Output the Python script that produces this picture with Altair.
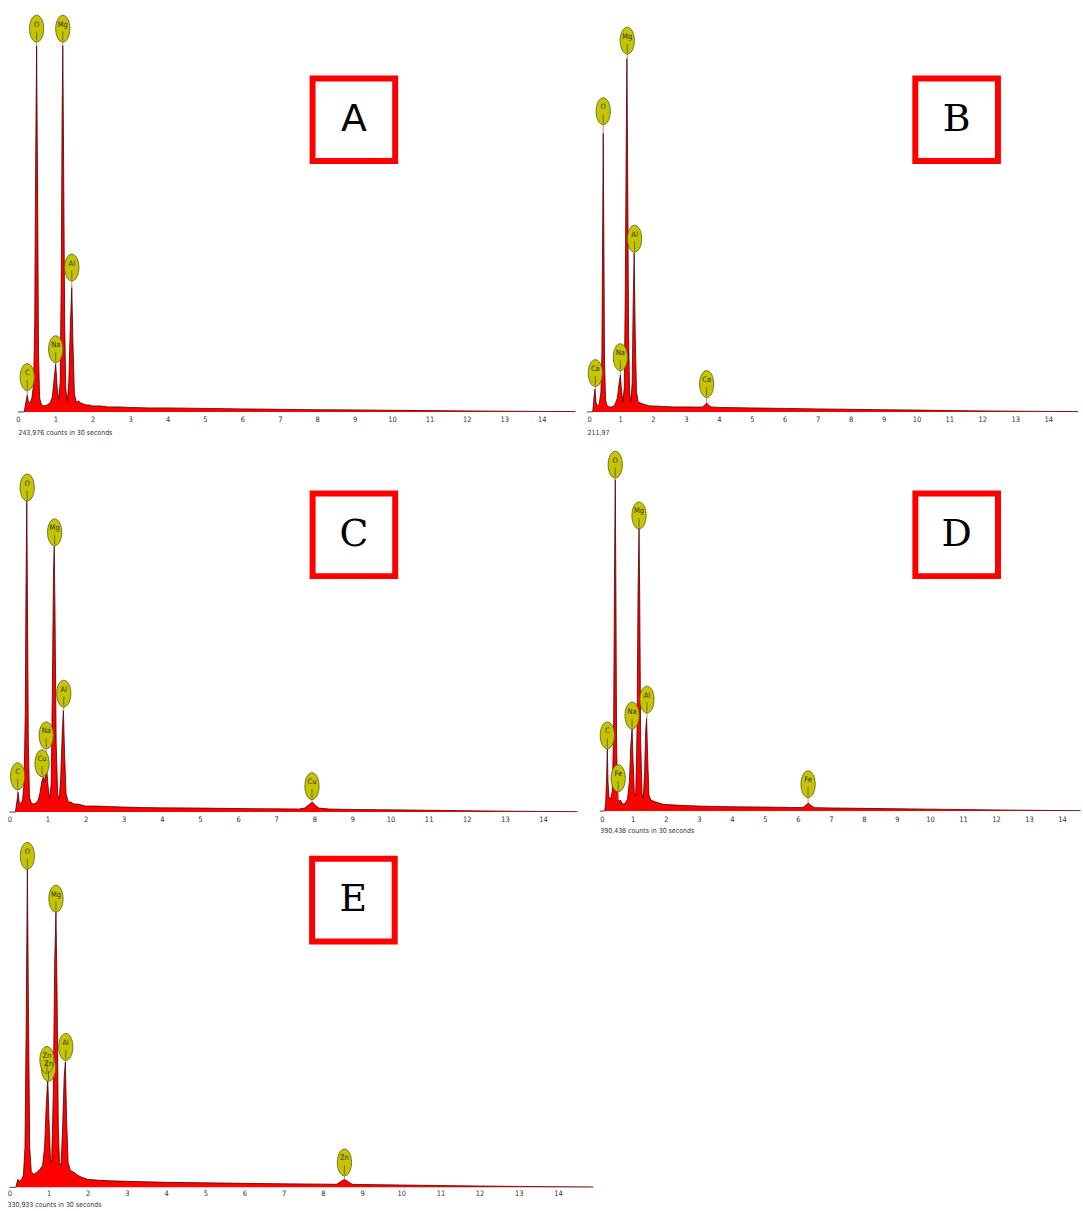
import altair as alt
import pandas as pd

NUM_FONT = "Liberation Sans Narrow, DejaVu Sans Condensed, Liberation Sans, sans-serif"
TICKS = list(range(15))

# ---------------- spectra: (energy keV, counts a.u.) ----------------
A_POINTS = [(0, 0), (0.17, 0), (0.19, 5), (0.22, 11), (0.25, 17), (0.28, 10), (0.32, 9), (0.37, 13),
            (0.42, 28), (0.45, 90), (0.47, 230), (0.50, 368), (0.53, 200), (0.55, 60), (0.58, 14),
            (0.63, 7), (0.70, 6), (0.78, 7), (0.86, 9), (0.92, 15), (0.96, 30), (1.01, 48), (1.05, 24),
            (1.09, 12), (1.13, 30), (1.16, 140), (1.18, 290), (1.20, 368), (1.22, 260), (1.25, 90),
            (1.28, 22), (1.32, 11), (1.36, 30), (1.40, 85), (1.44, 125), (1.47, 70), (1.51, 18),
            (1.56, 10), (1.62, 11), (1.68, 9), (1.75, 8), (1.82, 7), (1.90, 7), (2.0, 6), (2.2, 6),
            (2.4, 5), (2.7, 5), (3.0, 4.5), (3.5, 4), (4.0, 4), (5.0, 3.5), (6.0, 3), (7.0, 2.6),
            (8.0, 2.2), (9.0, 2), (10.0, 1.6), (11.0, 1.3), (12.0, 1), (13.0, 0.7), (14.0, 0.5), (14.9, 0.3)]
B_POINTS = [(0, 0), (0.17, 0), (0.19, 6), (0.21, 15), (0.24, 23), (0.27, 10), (0.31, 6), (0.37, 8),
            (0.42, 20), (0.45, 60), (0.47, 170), (0.49, 280), (0.51, 170), (0.53, 50), (0.56, 12),
            (0.61, 6), (0.68, 5), (0.76, 5), (0.84, 7), (0.92, 14), (0.97, 28), (1.01, 37), (1.05, 20),
            (1.09, 10), (1.13, 25), (1.16, 120), (1.19, 280), (1.21, 355), (1.23, 250), (1.26, 80),
            (1.29, 20), (1.33, 10), (1.37, 30), (1.40, 110), (1.43, 160), (1.46, 80), (1.50, 20),
            (1.55, 10), (1.62, 9), (1.70, 8), (1.80, 7), (1.90, 6), (2.0, 6), (2.3, 5.5), (2.6, 5),
            (3.0, 5), (3.3, 4.8), (3.5, 5), (3.58, 7), (3.63, 9), (3.68, 7), (3.76, 5), (4.0, 4.5),
            (5.0, 4), (6.0, 3.5), (7.0, 3), (8.0, 2.6), (9.0, 2.2), (10.0, 1.8), (11.0, 1.4),
            (12.0, 1), (13.0, 0.7), (14.0, 0.5), (14.9, 0.3)]
C_POINTS = [(0, 0), (0.16, 0), (0.18, 5), (0.21, 13), (0.23, 20), (0.26, 10), (0.30, 8), (0.35, 12),
            (0.39, 30), (0.42, 100), (0.44, 230), (0.46, 314), (0.48, 200), (0.50, 70), (0.53, 15),
            (0.58, 9), (0.64, 8), (0.70, 9), (0.76, 12), (0.81, 20), (0.85, 30), (0.89, 35), (0.92, 30),
            (0.95, 38), (0.98, 44), (1.02, 25), (1.06, 13), (1.10, 28), (1.13, 120), (1.16, 240),
            (1.18, 267), (1.20, 200), (1.23, 70), (1.27, 18), (1.31, 12), (1.35, 35), (1.39, 80),
            (1.42, 102), (1.45, 60), (1.49, 18), (1.55, 10), (1.62, 10), (1.70, 8), (1.80, 8),
            (1.90, 7), (2.0, 6), (2.3, 6), (2.6, 5.5), (3.0, 5), (3.5, 4.5), (4.0, 4.2), (5.0, 4),
            (6.0, 3.5), (7.0, 3.2), (7.6, 3), (7.75, 4), (7.88, 8), (7.95, 10), (8.02, 7), (8.12, 4),
            (8.4, 3), (9.0, 2.6), (10.0, 2.2), (11.0, 1.8), (12.0, 1.3), (13.0, 0.9), (14.0, 0.6),
            (14.9, 0.4)]
D_POINTS = [(0, 0), (0.15, 0), (0.18, 8), (0.21, 35), (0.23, 63), (0.25, 30), (0.28, 14), (0.33, 12),
            (0.38, 20), (0.42, 80), (0.45, 250), (0.47, 333), (0.49, 220), (0.51, 70), (0.54, 16),
            (0.57, 11), (0.60, 10), (0.63, 11), (0.67, 8), (0.72, 7), (0.78, 8), (0.84, 12), (0.90, 30),
            (0.94, 65), (0.98, 83), (1.01, 50), (1.05, 18), (1.09, 15), (1.13, 80), (1.16, 220),
            (1.19, 284), (1.21, 220), (1.24, 70), (1.28, 18), (1.32, 13), (1.36, 40), (1.39, 80),
            (1.42, 93), (1.45, 55), (1.49, 16), (1.55, 11), (1.62, 10), (1.70, 9), (1.80, 8),
            (1.90, 7), (2.0, 6.5), (2.3, 6), (2.6, 5.5), (3.0, 5), (3.5, 4.6), (4.0, 4.3), (5.0, 4),
            (5.8, 3.6), (6.15, 3.5), (6.25, 6), (6.32, 8), (6.40, 5.5), (6.5, 3.4), (7.0, 3.1),
            (8.0, 2.7), (9.0, 2.3), (10.0, 1.9), (11.0, 1.5), (12.0, 1.1), (13.0, 0.8), (14.0, 0.5),
            (14.56, 0.4)]
E_POINTS = [(0, 0), (0.17, 0), (0.19, 4), (0.22, 8), (0.25, 6), (0.30, 7), (0.36, 12), (0.40, 40),
            (0.43, 160), (0.46, 320), (0.49, 170), (0.52, 40), (0.56, 16), (0.62, 13), (0.70, 15),
            (0.78, 18), (0.85, 22), (0.90, 40), (0.94, 80), (0.98, 110), (1.01, 70), (1.05, 28),
            (1.08, 25), (1.12, 90), (1.16, 230), (1.19, 278), (1.22, 190), (1.25, 60), (1.28, 25),
            (1.32, 22), (1.36, 60), (1.40, 110), (1.43, 126), (1.46, 70), (1.50, 25), (1.56, 17),
            (1.65, 15), (1.75, 12), (1.85, 10), (2.0, 8), (2.3, 7), (2.6, 6.5), (3.0, 6), (3.5, 5.5),
            (4.0, 5), (5.0, 4.5), (6.0, 4), (7.0, 3.5), (8.0, 3.2), (8.35, 3), (8.47, 6), (8.55, 8),
            (8.63, 6), (8.75, 3), (9.0, 2.8), (10.0, 2.3), (11.0, 1.8), (12.0, 1.3), (13.0, 0.9),
            (14.0, 0.6), (14.9, 0.4)]

# ---------------- peak labels: (element, keV, label height, peak height) ----------------
A_LABELS = [("C", 0.25, 35, 17), ("O", 0.50, 385, 368), ("Mg", 1.20, 385, 368),
            ("Na", 1.01, 63, 48), ("Al", 1.44, 145, 125)]
B_LABELS = [("Ca", 0.25, 39, 23), ("O", 0.49, 302, 280), ("Na", 1.01, 55, 37),
            ("Mg", 1.22, 373, 355), ("Al", 1.44, 174, 160), ("Ca", 3.63, 28, 9)]
C_LABELS = [("C", 0.22, 36, 20), ("O", 0.47, 326, 314), ("Cu", 0.86, 49, 35),
            ("Na", 0.97, 77, 44), ("Mg", 1.19, 281, 267), ("Al", 1.43, 119, 102), ("Cu", 7.94, 26, 10)]
D_LABELS = [("C", 0.23, 76, 63), ("O", 0.47, 348, 333), ("Fe", 0.56, 33, 11),
            ("Na", 0.98, 96, 83), ("Mg", 1.19, 297, 284), ("Al", 1.43, 112, 93), ("Fe", 6.31, 27, 8)]
E_LABELS = [("O", 0.46, 333, 320), ("Zn", 1.00, 120, 110), ("Zn", 0.96, 128, 110),
            ("Mg", 1.19, 290, 278), ("Al", 1.44, 141, 126), ("Zn", 8.55, 25, 8)]

# ---------------- captions and panel letters ----------------
A_CAPTION = "243,976 counts in 30 seconds"
B_CAPTION = "211,97"
C_CAPTION = ""
D_CAPTION = "390,438 counts in 30 seconds"
E_CAPTION = "330,933 counts in 30 seconds"

A_BOX = ("A", 8.98, 293.5)
B_BOX = ("B", 11.22, 293.5)
C_BOX = ("C", 9.04, 278.5)
D_BOX = ("D", 10.81, 277.5)
E_BOX = ("E", 8.78, 288.5)

ELLIPSE = "M -0.53 0 A 0.53 1 0 1 0 0.53 0 A 0.53 1 0 1 0 -0.53 0 Z"


def panel(points, labels, caption, box, letter_font, width, above, below, xmin, xmax,
          title_x, title_y, label_pad):
    spec = pd.DataFrame(points, columns=["keV", "counts"])
    lab = pd.DataFrame(labels, columns=["el", "keV", "cy", "peak"])
    bx = pd.DataFrame([box], columns=["letter", "keV", "cy"])
    xs = alt.Scale(domain=[xmin, xmax], nice=False, zero=False)
    ys = alt.Scale(domain=[-below, above], nice=False, zero=False)
    kw = dict(values=TICKS, format="d", domain=False, ticks=False, grid=False,
              labelFont=NUM_FONT, labelFontSize=7.5, labelColor="#333333",
              labelPadding=label_pad, offset=-below)
    if caption:
        kw.update(title=caption, titleFont=NUM_FONT, titleFontSize=7, titleFontWeight="normal",
                  titleColor="#333333", titleAnchor="start", titleAlign="left",
                  titleBaseline="middle", titleX=title_x, titleY=title_y)
    else:
        kw.update(title=None)
    xaxis = alt.Axis(**kw)

    def X():
        return alt.X("keV:Q", scale=xs, axis=xaxis)

    def Y(f):
        return alt.Y(f, scale=ys, axis=None)

    area = alt.Chart(spec).mark_area(color="#ff0000", opacity=1).encode(
        x=X(), y=Y("counts:Q"), y2=alt.datum(0))
    outline = alt.Chart(spec).mark_line(color="#4a0000", strokeWidth=0.8).encode(
        x=X(), y=Y("counts:Q"))
    stem = alt.Chart(lab).mark_rule(color="#e07a7a", strokeWidth=1, yOffset=13.5).encode(
        x=X(), y=Y("cy:Q"), y2="peak:Q")
    bubble = alt.Chart(lab).mark_point(shape=ELLIPSE, size=729, filled=True, fill="#c4c400",
                                       stroke="#5c5c10", strokeWidth=0.8, opacity=1).encode(
        x=X(), y=Y("cy:Q"))
    tick = alt.Chart(lab).mark_rule(color="#555555", strokeWidth=0.8, yOffset=3,
                                    y2Offset=12).encode(x=X(), y=Y("cy:Q"), y2="cy:Q")
    name = alt.Chart(lab).mark_text(font=NUM_FONT, fontSize=7.5, color="#333333", dy=-4).encode(
        x=X(), y=Y("cy:Q"), text="el:N")
    frame = alt.Chart(bx).mark_point(shape="square", size=6889, filled=True, fill="white",
                                     stroke="#ff0000", strokeWidth=6, opacity=1).encode(
        x=X(), y=Y("cy:Q"))
    letter = alt.Chart(bx).mark_text(font=letter_font, fontSize=38, color="black").encode(
        x=X(), y=Y("cy:Q"), text="letter:N")
    return alt.layer(area, outline, stem, bubble, tick, name, frame, letter).properties(
        width=width, height=above + below)


pA = panel(A_POINTS, A_LABELS, A_CAPTION, A_BOX, "DejaVu Sans", 571, 400, 32, -0.2926, 14.9, 11, 21, 4)
pB = panel(B_POINTS, B_LABELS, B_CAPTION, B_BOX, "DejaVu Serif", 493, 400, 32, 0, 14.9, 0, 21, 4)
pC = panel(C_POINTS, C_LABELS, C_CAPTION, C_BOX, "DejaVu Serif", 573, 366, 24, -0.06, 14.9, 0, 20, 4)
pD = panel(D_POINTS, D_LABELS, D_CAPTION, D_BOX, "DejaVu Serif", 483, 365, 25, 0, 14.56, 0, 20, 4)
pE = panel(E_POINTS, E_LABELS, E_CAPTION, E_BOX, "DejaVu Serif", 589, 348, 21, -0.06, 14.9, 0, 17.5, 2)

row1 = alt.hconcat(pA, pB, spacing=7.8)
row2 = alt.hconcat(pC, pD, spacing=18.5)
chart = alt.vconcat(row1, row2, pE, spacing=4).properties(
    padding={"left": 7, "top": 10, "right": 0, "bottom": 0}, background="white"
).configure_view(stroke=None)

chart.save("out.html", embed_options={"renderer": "svg", "actions": False})
